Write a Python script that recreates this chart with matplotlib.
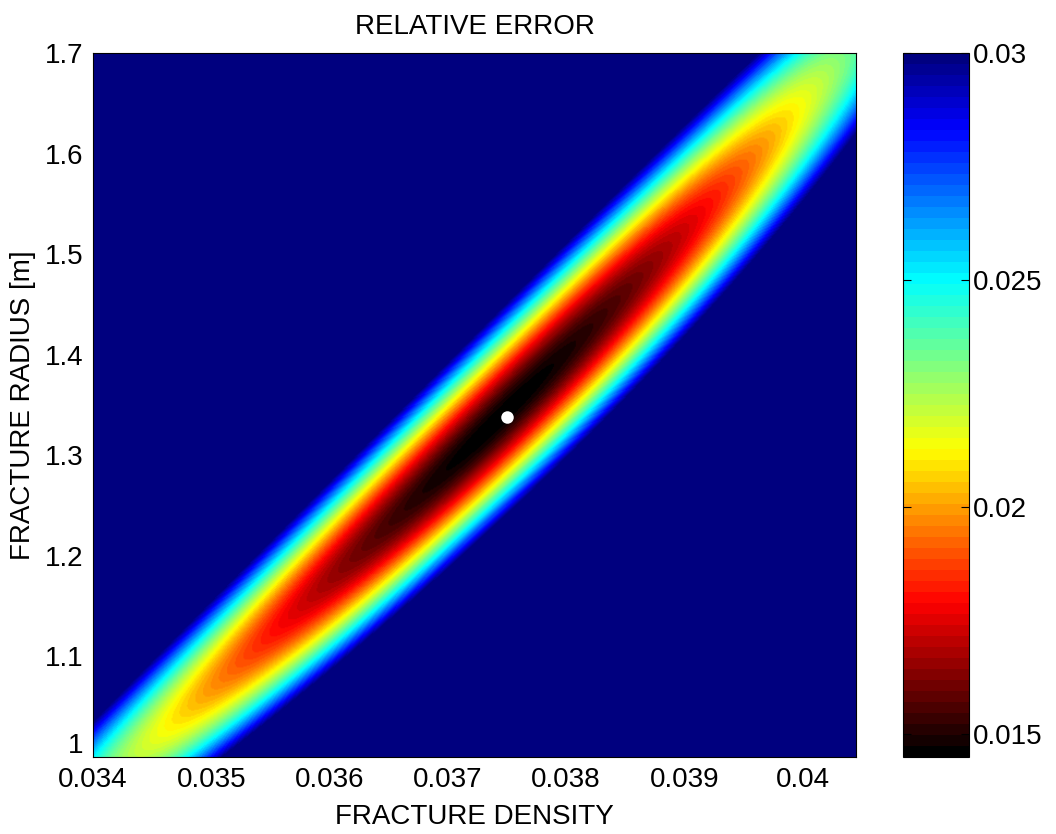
import numpy as np
import matplotlib
matplotlib.use("Agg")
import matplotlib.pyplot as plt
import matplotlib.transforms as mtransforms
from matplotlib.colors import LinearSegmentedColormap

# ---- values ----
x_ticks = [0.034, 0.035, 0.036, 0.037, 0.038, 0.039, 0.040]
x_tick_labels = ["0.034", "0.035", "0.036", "0.037", "0.038", "0.039", "0.04"]
y_ticks = [1.0, 1.1, 1.2, 1.3, 1.4, 1.5, 1.6, 1.7]
y_tick_labels = ["1", "1.1", "1.2", "1.3", "1.4", "1.5", "1.6", "1.7"]
cbar_ticks = [0.015, 0.02, 0.025, 0.03]
cbar_tick_labels = ["0.015", "0.02", "0.025", "0.03"]
density_range = [0.034, 0.04045]
radius_range = [1.0, 1.7]

# valley centreline (minimum of error along density, per radius)
valley_radius = [1.0, 1.1, 1.338, 1.6, 1.7]
valley_density = [0.03444, 0.03528, 0.03748, 0.03953, 0.04028]
# valley floor error values per radius
floor_radius = [1.0, 1.1, 1.2, 1.338, 1.5, 1.6, 1.7]
floor_error = [0.0218, 0.0187, 0.0160, 0.0145, 0.0167, 0.0200, 0.0228]
# growth of error across the valley (error per unit of density)
across_slope = 29.0

best_density = 0.0375
best_radius = 1.338
err_min, err_max = 0.0145, 0.03

# colormap stops (fraction of colour range, colour)
cmap_pos = [0.0, 0.216, 0.436, 0.680, 0.898, 1.0]
cmap_col = [(0, 0, 0), (1, 0, 0), (1, 1, 0), (0, 1, 1), (0, 0, 1), (0, 0, 0.5)]

# ---- build the surface ----
coef = np.polyfit(valley_radius, valley_density, 2)
fy = np.array(floor_radius)
fe = np.array(floor_error)
m = fy != best_radius
e2 = np.mean((fe[m] ** 2 - err_min ** 2) / (fy[m] - best_radius) ** 2)

xs = np.linspace(density_range[0], density_range[1], 700)
ys = np.linspace(radius_range[0], radius_range[1], 700)
X, Y = np.meshgrid(xs, ys)
XC = np.polyval(coef, Y)
Z = np.sqrt(err_min ** 2 + e2 * (Y - best_radius) ** 2 + (across_slope * (X - XC)) ** 2)

cmap = LinearSegmentedColormap.from_list("relerr", list(zip(cmap_pos, cmap_col)), N=64)

plt.rcParams["font.family"] = ["Liberation Sans", "DejaVu Sans"]
fs = 20

fig = plt.figure(figsize=(10.56, 8.34), dpi=100)
ax = fig.add_axes([93 / 1056, 1 - 757 / 834, (856 - 93) / 1056, (757 - 53) / 834])
cax = fig.add_axes([903 / 1056, 1 - 757 / 834, 66 / 1056, (757 - 53) / 834])

im = ax.imshow(Z, origin="lower", aspect="auto", cmap=cmap, vmin=err_min, vmax=err_max,
               extent=[density_range[0], density_range[1], radius_range[0], radius_range[1]],
               interpolation="bilinear")
ax.plot([best_density], [best_radius], "o", color="white", markersize=9, markeredgewidth=0)
ax.set_xlim(density_range)
ax.set_ylim(radius_range)
ax.set_xticks(x_ticks)
ax.set_xticklabels(x_tick_labels)
ax.set_yticks(y_ticks)
ax.set_yticklabels(y_tick_labels)
ax.tick_params(length=0, labelsize=fs, pad=7)
ax.set_xlabel("FRACTURE DENSITY", fontsize=fs, labelpad=8)
ax.set_ylabel("FRACTURE RADIUS [m]", fontsize=fs, labelpad=6)
ax.set_title("RELATIVE ERROR", fontsize=fs, pad=14)
for s in ax.spines.values():
    s.set_linewidth(0.8)

# raise the lowest y label a little so it clears the first x label (as in reference)
lbl = ax.get_yticklabels()[0]
lbl.set_transform(lbl.get_transform() + mtransforms.ScaledTranslation(0, 10 / 72, fig.dpi_scale_trans))

cb = fig.colorbar(im, cax=cax, ticks=cbar_ticks)
cb.ax.set_yticklabels(cbar_tick_labels)
cb.ax.tick_params(direction="in", length=6, labelsize=fs, pad=3, left=True, right=True)
cb.outline.set_linewidth(0.8)

fig.savefig("out.png", dpi=100)
